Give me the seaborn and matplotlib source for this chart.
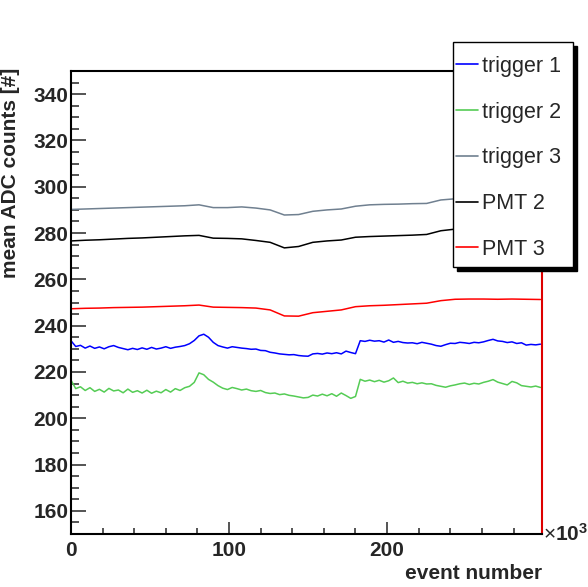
import numpy as np
import pandas as pd
import matplotlib
matplotlib.use("Agg")
import matplotlib.pyplot as plt
from matplotlib.lines import Line2D
from matplotlib.patches import Rectangle
from matplotlib.ticker import MultipleLocator
import seaborn as sns

# event number in units of 10^3
events_fine = np.arange(0, 300, 3)     # trigger channels (noisy)
events_coarse = np.arange(0, 300, 9)   # PMT / trigger 3 (smooth)

trigger1 = [
    233.5, 231.0, 231.5, 230.3, 231.2, 230.2, 230.8, 230.0, 230.9, 231.4,
    230.6, 230.1, 229.6, 230.2, 229.7, 230.4, 229.8, 230.6, 229.9, 230.3,
    230.9, 230.2, 230.7, 231.0, 231.4, 232.2, 233.6, 235.6, 236.3, 235.0,
    232.8, 231.4, 230.8, 230.3, 230.9, 230.6, 230.3, 230.1, 229.8, 229.9,
    229.3, 229.2, 228.5, 228.2, 227.8, 227.6, 227.4, 227.5, 227.1, 226.9,
    226.8, 227.8, 228.0, 227.7, 228.2, 227.9, 228.3, 227.8, 229.0, 228.4,
    227.9, 233.5, 233.2, 233.7, 233.3, 233.5, 232.9, 233.8, 232.8, 233.2,
    232.7, 232.5, 232.6, 232.2, 232.8, 232.4, 232.0, 231.4, 231.1, 231.8,
    232.4, 232.3, 232.8, 232.6, 232.3, 232.8, 232.6, 233.0, 233.6, 234.1,
    233.4, 233.2, 232.7, 233.0, 232.3, 232.6, 231.6, 231.9, 231.7, 232.0,
]
trigger2 = [
    216.5, 212.8, 213.6, 212.0, 213.2, 211.6, 212.5, 211.3, 212.9, 211.8,
    212.2, 211.0, 212.6, 211.2, 211.9, 210.9, 212.1, 210.8, 211.7, 211.0,
    212.4, 211.3, 212.8, 212.0, 213.2, 213.8, 215.5, 219.6, 218.8, 216.8,
    215.6, 214.1, 213.0, 212.4, 213.3, 212.8, 212.2, 212.6, 211.9, 211.6,
    212.0, 211.1, 210.7, 210.9, 210.2, 210.5, 209.9, 209.6, 209.2, 208.8,
    209.0, 210.0, 209.6, 210.4, 209.7, 210.6, 209.5, 210.9, 209.8, 208.6,
    209.4, 216.8, 216.0, 216.5, 215.8, 216.4, 215.6, 216.2, 217.4, 215.4,
    216.0, 215.2, 215.5, 214.9, 215.3, 214.8, 214.9, 214.2, 213.8, 213.4,
    214.0, 214.4, 214.9, 215.2, 214.6, 215.1, 214.8, 215.5, 216.0, 216.7,
    215.6, 215.0, 214.4, 215.9, 215.3, 214.1, 213.8, 213.5, 213.9, 213.3,
]
trigger3 = [
    290.2, 290.4, 290.6, 290.8, 291.0, 291.2, 291.4, 291.6, 291.8, 292.2,
    291.0, 291.0, 291.3, 290.8, 290.0, 287.8, 288.0, 289.4, 290.0, 290.4,
    291.6, 292.2, 292.4, 292.5, 292.7, 292.8, 294.3, 294.8, 295.0, 295.2,
    295.3, 295.4, 295.5, 295.6,
]
pmt2 = [
    276.6, 276.9, 277.1, 277.4, 277.7, 277.9, 278.2, 278.5, 278.8, 279.0,
    277.8, 277.7, 277.5, 276.8, 276.0, 273.6, 274.2, 276.0, 276.6, 277.0,
    278.2, 278.5, 278.7, 278.9, 279.1, 279.4, 281.0, 281.7, 282.0, 282.2,
    282.3, 282.4, 282.5, 282.6,
]
pmt3 = [
    247.3, 247.5, 247.6, 247.8, 247.9, 248.0, 248.2, 248.4, 248.6, 248.9,
    248.0, 247.9, 247.8, 247.6, 246.8, 244.2, 244.1, 245.6, 246.2, 246.8,
    248.2, 248.6, 248.8, 249.1, 249.4, 249.7, 250.8, 251.4, 251.5, 251.5,
    251.4, 251.5, 251.4, 251.3,
]

channels = ["trigger 1", "trigger 2", "trigger 3", "PMT 2", "PMT 3"]
colors = ["#0000ff", "#55cc55", "#708090", "#000000", "#ff0000"]

frames = []
for name, ev, vals in [("trigger 1", events_fine, trigger1),
                       ("trigger 2", events_fine, trigger2),
                       ("trigger 3", events_coarse, trigger3),
                       ("PMT 2", events_coarse, pmt2),
                       ("PMT 3", events_coarse, pmt3)]:
    frames.append(pd.DataFrame({"event": ev, "adc": vals, "channel": name}))
df = pd.concat(frames, ignore_index=True)

sns.set_style("ticks")
plt.rcParams["font.family"] = ["Liberation Sans", "DejaVu Sans"]
plt.rcParams["mathtext.fontset"] = "custom"
plt.rcParams["mathtext.rm"] = "Liberation Sans"
plt.rcParams["mathtext.bf"] = "Liberation Sans:bold"

fig = plt.figure(figsize=(5.88, 5.87), dpi=100)
ax = fig.add_axes([0.1207, 0.0903, 0.8011, 0.7887])

sns.lineplot(data=df, x="event", y="adc", hue="channel", hue_order=channels,
             palette=dict(zip(channels, colors)), estimator=None, sort=False,
             linewidth=1.1, legend=False, ax=ax)

ax.set_xlim(0, 298)
ax.set_ylim(150, 350)
ax.xaxis.set_major_locator(MultipleLocator(100))
ax.xaxis.set_minor_locator(MultipleLocator(20))
ax.yaxis.set_minor_locator(MultipleLocator(5))
ax.set_yticks([160, 180, 200, 220, 240, 260, 280, 300, 320, 340])
ax.tick_params(axis="x", which="major", direction="in", length=8.6, width=1.1,
               labelsize=15, pad=5)
ax.tick_params(axis="x", which="minor", direction="in", length=4, width=1.1)
ax.tick_params(axis="y", which="major", direction="in", length=10.8, width=1.1,
               labelsize=15, pad=2)
ax.tick_params(axis="y", which="minor", direction="in", length=5.5, width=1.1)
for lbl in ax.get_xticklabels() + ax.get_yticklabels():
    lbl.set_fontweight("bold")

for side in ["left", "bottom", "top"]:
    ax.spines[side].set_color("black")
    ax.spines[side].set_linewidth(1.5)
ax.spines["right"].set_color("#dd0000")
ax.spines["right"].set_linewidth(1.5)

ax.set_xlabel("event number", fontsize=15, fontweight="bold", loc="right")
ax.xaxis.set_label_coords(1.0, -0.065)
ax.set_ylabel("mean ADC counts [#]", fontsize=15, fontweight="bold", loc="top")
ax.yaxis.set_label_coords(-0.108, 1.008)
ax.text(1.003, 0.0, r"$\times\mathbf{10^{3}}$", transform=ax.transAxes,
        fontsize=15, ha="left", va="center")

# legend: white box with a solid black drop shadow, entries placed inside
box_x, box_y, box_w, box_h = 0.770, 0.545, 0.205, 0.384
fig.patches.append(Rectangle((box_x + 0.007, box_y - 0.007), box_w, box_h,
                             transform=fig.transFigure, facecolor="black",
                             edgecolor="black", zorder=4))
fig.patches.append(Rectangle((box_x, box_y), box_w, box_h,
                             transform=fig.transFigure, facecolor="white",
                             edgecolor="black", linewidth=1.0, zorder=4.5))
handles = [Line2D([], [], color=c, lw=1.2) for c in colors]
leg = fig.legend(handles, channels, loc="upper left",
                 bbox_to_anchor=(0.776, 0.905), fontsize=15.5, frameon=False,
                 handlelength=1.0, handletextpad=0.2, labelspacing=1.15,
                 borderpad=0.0, borderaxespad=0.0)
leg.set_zorder(5)

fig.savefig("out.png", dpi=100)
